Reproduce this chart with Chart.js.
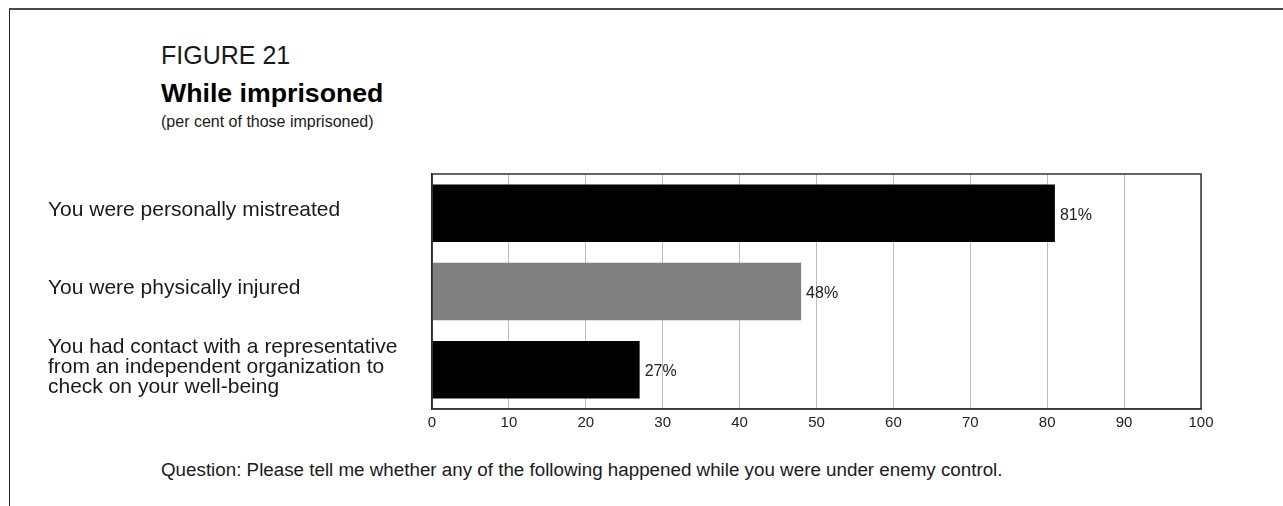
<!DOCTYPE html>
<html>
<head>
<meta charset="utf-8">
<script src="https://cdn.jsdelivr.net/npm/chart.js@4.4.1/dist/chart.umd.min.js"></script>
<style>
  html, body { margin: 0; padding: 0; background: #fff; }
  body { width: 1283px; height: 506px; position: relative; overflow: hidden;
         font-family: "Liberation Sans", Arial, sans-serif; color: #1a1a1a; }
  #frame { position: absolute; left: 9px; top: 8px; width: 1400px; height: 600px;
           border-top: 2px solid #4a4a4a; border-left: 1px solid #222; box-sizing: border-box; }
  .t { position: absolute; left: 161px; white-space: nowrap; }
  #fig { top: 43px; font-size: 25px; line-height: 25px; }
  #title { top: 80px; font-size: 26.7px; line-height: 26px; font-weight: bold; color: #000; }
  #sub { top: 114px; font-size: 16px; line-height: 16px; }
  #question { top: 461px; font-size: 18.8px; line-height: 18px; }
  #c { position: absolute; left: 0; top: 0; }
</style>
</head>
<body>
<div id="frame"></div>
<div class="t" id="fig">FIGURE 21</div>
<div class="t" id="title">While imprisoned</div>
<div class="t" id="sub">(per cent of those imprisoned)</div>
<div class="t" id="question">Question: Please tell me whether any of the following happened while you were under enemy control.</div>
<canvas id="c" width="1283" height="506"></canvas>
<script>
// ---- data ----
const categories = [
  "You were personally mistreated",
  "You were physically injured",
  ["You had contact with a representative", "from an independent organization to", "check on your well-being"]
];
const values = [81, 48, 27];
const valueLabels = ["81%", "48%", "27%"];
const xTicks = [0, 10, 20, 30, 40, 50, 60, 70, 80, 90, 100];

// ---- styles ----
const barColors = ["#000000", "#808080", "#000000"];
const fontFamily = '"Liberation Sans", Arial, sans-serif';

const framePlugin = {
  id: 'frame',
  afterDatasetsDraw(chart) {
    const a = chart.chartArea, ctx = chart.ctx;
    ctx.save();
    ctx.strokeStyle = '#333';
    ctx.lineWidth = 1.5;
    ctx.strokeRect(a.left, a.top, a.right - a.left, a.bottom - a.top);
    ctx.restore();
  }
};

const valueLabelPlugin = {
  id: 'valueLabels',
  afterDatasetsDraw(chart) {
    const ctx = chart.ctx;
    const meta = chart.getDatasetMeta(0);
    ctx.save();
    ctx.font = '16px ' + fontFamily;
    ctx.fillStyle = '#222';
    ctx.textAlign = 'left';
    ctx.textBaseline = 'middle';
    meta.data.forEach((bar, i) => {
      ctx.fillText(valueLabels[i], bar.x + 5, bar.y + 2);
    });
    ctx.restore();
  }
};

new Chart(document.getElementById('c'), {
  type: 'bar',
  data: {
    labels: categories,
    datasets: [{
      data: values,
      backgroundColor: barColors,
      borderWidth: 0,
      barPercentage: 0.734,
      categoryPercentage: 1.0
    }]
  },
  options: {
    indexAxis: 'y',
    responsive: false,
    animation: false,
    devicePixelRatio: 1,
    layout: { padding: { left: 48, top: 174, right: 82, bottom: 0 } },
    plugins: {
      legend: { display: false },
      tooltip: { enabled: false },
      title: { display: false }
    },
    scales: {
      x: {
        min: 0, max: 100,
        afterBuildTicks(scale) { scale.ticks = xTicks.map(v => ({ value: v })); },
        afterFit(scale) { scale.height = 97; },
        grid: { color: '#bdbdbd', lineWidth: 1, drawTicks: false },
        border: { display: true, color: '#444', width: 1.5 },
        ticks: {
          padding: 5,
          color: '#222',
          font: { family: fontFamily, size: 15 }
        }
      },
      y: {
        afterFit(scale) { scale.width = 384; },
        grid: { display: false, drawTicks: false },
        border: { display: true, color: '#000', width: 1.5 },
        ticks: {
          crossAlign: 'far',
          padding: 0,
          labelOffset: -3,
          color: '#1a1a1a',
          font: { family: fontFamily, size: 21, lineHeight: 0.95 }
        }
      }
    }
  },
  plugins: [framePlugin, valueLabelPlugin]
});
</script>
</body>
</html>
